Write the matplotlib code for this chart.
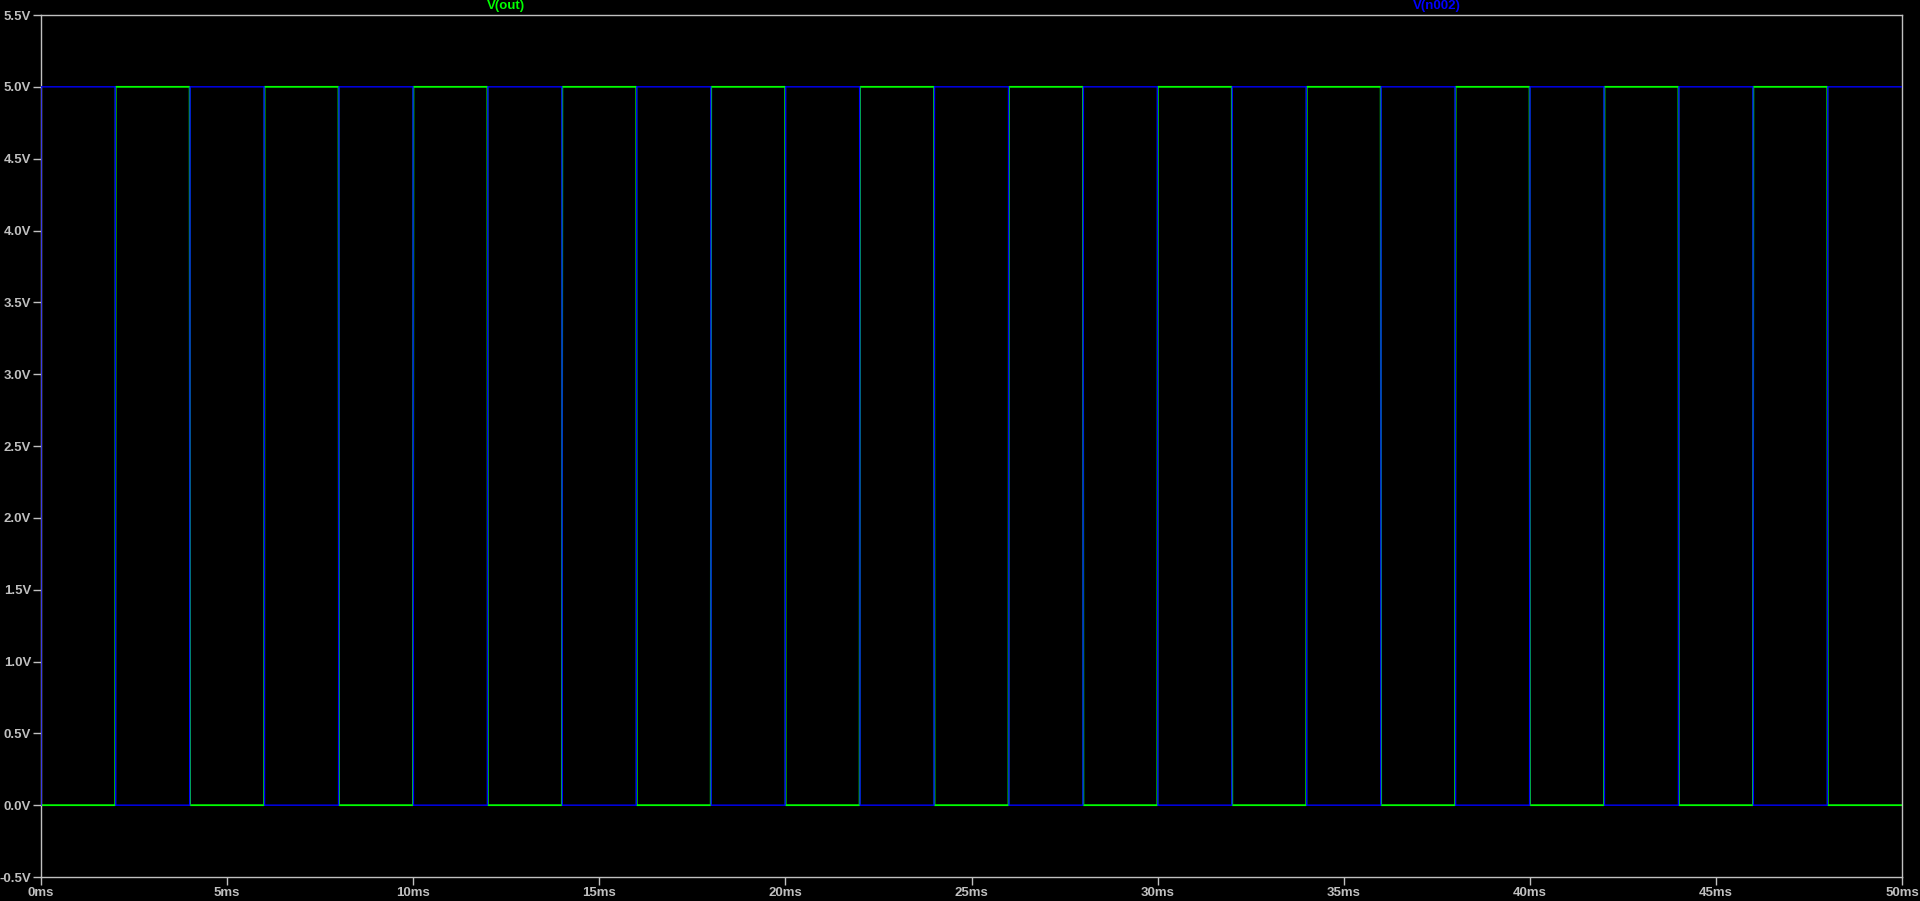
import numpy as np
import matplotlib
matplotlib.use("Agg")
import matplotlib.pyplot as plt
import matplotlib.transforms as mtransforms

# Edge times of the two square waves (ms)
edge_ms = [0, 2, 4, 6, 8, 10, 12, 14, 16, 18, 20, 22, 24, 26, 28, 30,
           32, 34, 36, 38, 40, 42, 44, 46, 48, 50]

# Level of each trace between consecutive edges (V)
v_n002 = [5, 0, 5, 0, 5, 0, 5, 0, 5, 0, 5, 0, 5, 0, 5, 0, 5, 0, 5, 0, 5, 0, 5, 0, 5]
v_out = [0, 5, 0, 5, 0, 5, 0, 5, 0, 5, 0, 5, 0, 5, 0, 5, 0, 5, 0, 5, 0, 5, 0, 5, 0]

# switching time of the edges (ms), tiny compared to the period
T_SWITCH = 0.012

# Tick labels
x_ticks = [0, 5, 10, 15, 20, 25, 30, 35, 40, 45, 50]
x_labels = ["0ms", "5ms", "10ms", "15ms", "20ms", "25ms", "30ms", "35ms", "40ms", "45ms", "50ms"]
y_ticks = [-0.5, 0.0, 0.5, 1.0, 1.5, 2.0, 2.5, 3.0, 3.5, 4.0, 4.5, 5.0, 5.5]
y_labels = ["-0.5V", "0.0V", "0.5V", "1.0V", "1.5V", "2.0V", "2.5V", "3.0V",
            "3.5V", "4.0V", "4.5V", "5.0V", "5.5V"]

trace_names = ["V(out)", "V(n002)"]
trace_label_x = [12.5, 37.5]

GREEN = "#00ff00"
BLUE = "#0000ff"
GRAY = "#c0c0c0"
FONT = "Liberation Sans"


def step_xy(edges, levels, start=None):
    # square wave with short linear edges
    h = T_SWITCH / 2
    xs, ys = [], []
    if start is not None:
        xs.append(edges[0])
        ys.append(start)
    n = len(levels)
    for i, lv in enumerate(levels):
        a = edges[i] + (h if i > 0 else 0)
        b = edges[i + 1] - (h if i < n - 1 else 0)
        xs += [a, b]
        ys += [lv, lv]
    return np.array(xs), np.array(ys)


def main():
    fig = plt.figure(figsize=(19.2, 9.01), dpi=100, facecolor="black")
    ax = fig.add_axes([41 / 1920, 1 - 877 / 901, (1902 - 41) / 1920, (877 - 15) / 901])
    ax.set_facecolor("black")

    xg, yg = step_xy(edge_ms, v_out)
    xb, yb = step_xy(edge_ms, v_n002, start=0)
    ax.plot(xg, yg, color=GREEN, lw=1.3, zorder=2)
    ax.plot(xb, yb, color=BLUE, lw=1.0, zorder=3)

    ax.set_xlim(0, 50)
    ax.set_ylim(-0.5, 5.5)
    ax.set_xticks(x_ticks)
    ax.set_xticklabels(x_labels)
    ax.set_yticks(y_ticks)
    ax.set_yticklabels(y_labels)

    for sp in ax.spines.values():
        sp.set_color(GRAY)
        sp.set_linewidth(1.0)

    ax.tick_params(axis="both", colors=GRAY, direction="out", length=6, width=1.0,
                   labelsize=9.5, pad=1)
    for lab in ax.get_xticklabels() + ax.get_yticklabels():
        lab.set_fontfamily(FONT)
        lab.set_fontweight("bold")
        lab.set_color(GRAY)

    trans = mtransforms.blended_transform_factory(ax.transData, ax.transAxes)
    for name, xpos, col in zip(trace_names, trace_label_x, [GREEN, BLUE]):
        ax.text(xpos, 1.003, name, transform=trans, color=col, ha="center", va="bottom",
                fontsize=9.5, fontweight="bold", family=FONT)

    fig.savefig("out.png", dpi=100, facecolor="black")


if __name__ == "__main__":
    main()
